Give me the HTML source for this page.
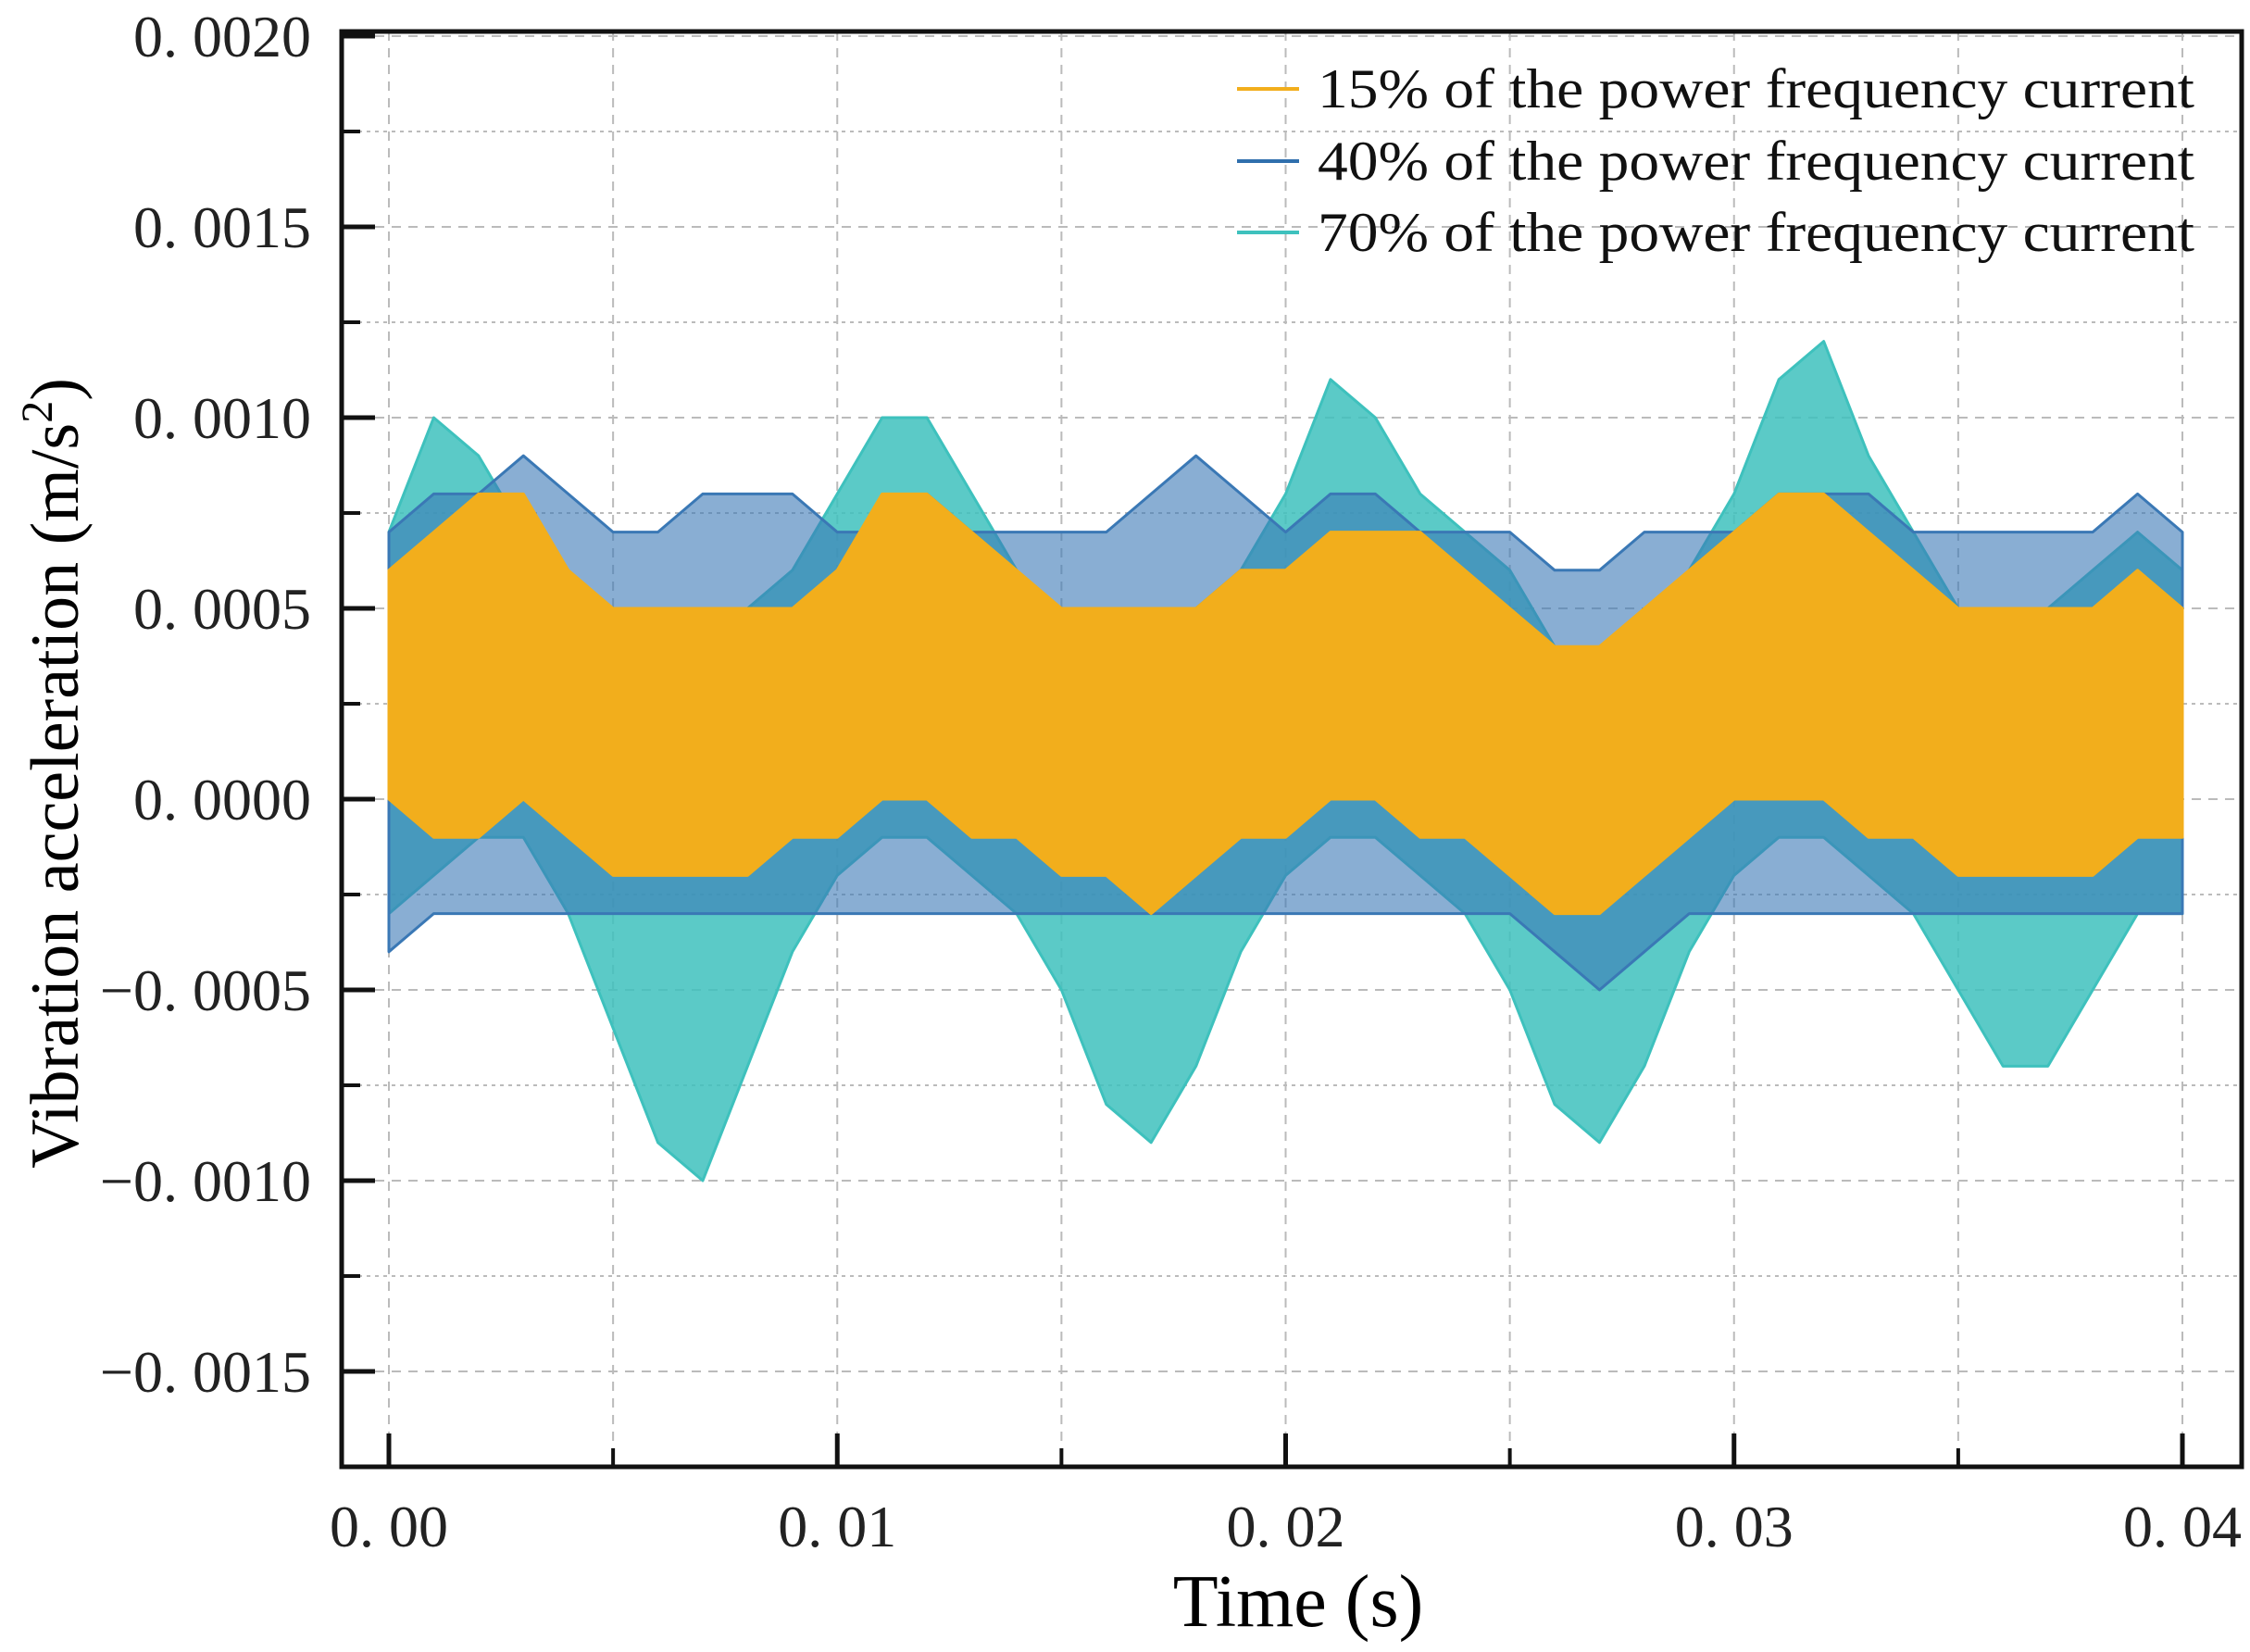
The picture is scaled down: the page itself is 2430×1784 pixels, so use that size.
<!DOCTYPE html>
<html><head><meta charset="utf-8"><style>
html,body{margin:0;padding:0;background:#fff;}
svg{display:block;font-family:"Liberation Serif","Noto Serif CJK SC",serif;}
</style></head><body>
<svg id="chart" width="2430" height="1784" viewBox="0 0 2430 1784">
<g id="grid"></g>
<g id="series"></g>
<g id="axes"></g>
<g id="legend"></g>
<text x="1402" y="1756" font-size="80" text-anchor="middle">Time (s)</text>
<text transform="translate(84,835) rotate(-90)" font-size="74" text-anchor="middle">Vibration acceleration (m/s<tspan font-size="48" dy="-28">2</tspan><tspan dy="28">)</tspan></text>
</svg>
<script>
const times=[0,1,2,3,4,5,6,7,8,9,10,11,12,13,14,15,16,17,18,19,20,21,22,23,24,25,26,27,28,29,30,31,32,33,34,35,36,37,38,39,40];
const tealUpper=[7,10,9,7,5,4,3,3,5,6,8,10,10,8,6,4,3,4,5,6,8,11,10,8,7,6,4,3,4,6,8,11,12,9,7,5,4,5,6,7,6];
const tealLower=[-3,-2,-1,-1,-3,-6,-9,-10,-7,-4,-2,-1,-1,-2,-3,-5,-8,-9,-7,-4,-2,-1,-1,-2,-3,-5,-8,-9,-7,-4,-2,-1,-1,-2,-3,-5,-7,-7,-5,-3,-3];
const blueUpper=[7,8,8,9,8,7,7,8,8,8,7,7,8,7,7,7,7,8,9,8,7,8,8,7,7,7,6,6,7,7,7,8,8,8,7,7,7,7,7,8,7];
const blueLower=[-4,-3,-3,-3,-3,-3,-3,-3,-3,-3,-3,-3,-3,-3,-3,-3,-3,-3,-3,-3,-3,-3,-3,-3,-3,-3,-4,-5,-4,-3,-3,-3,-3,-3,-3,-3,-3,-3,-3,-3,-3];
const orangeUpper=[6,7,8,8,6,5,5,5,5,5,6,8,8,7,6,5,5,5,5,6,6,7,7,7,6,5,4,4,5,6,7,8,8,7,6,5,5,5,5,6,5];
const orangeLower=[0,-1,-1,0,-1,-2,-2,-2,-2,-1,-1,0,0,-1,-1,-2,-2,-3,-2,-1,-1,0,0,-1,-1,-2,-3,-3,-2,-1,0,0,0,-1,-1,-2,-2,-2,-2,-1,-1];
const xTicks=[0,0.01,0.02,0.03,0.04];
const xTickLabels=["0. 00","0. 01","0. 02","0. 03","0. 04"];
const yTicks=[0.002,0.0015,0.001,0.0005,0,-0.0005,-0.001,-0.0015];
const yTickLabels=["0. 0020","0. 0015","0. 0010","0. 0005","0. 0000","\u22120. 0005","\u22120. 0010","\u22120. 0015"];
const legendLabels=["15% of the power frequency current","40% of the power frequency current","70% of the power frequency current"];

const NS="http://www.w3.org/2000/svg";
const L=369,R=2421,T=34,B=1584;
function xs(t){return 420+t/0.04*1937;}
function ys(v){return 863-v/0.0005*206;}
function mk(tag,attrs,parent){const e=document.createElementNS(NS,tag);for(const k in attrs)e.setAttribute(k,attrs[k]);parent.appendChild(e);return e;}
const grid=document.getElementById('grid'),axes=document.getElementById('axes'),ser=document.getElementById('series'),leg=document.getElementById('legend');
for(let t=0;t<=0.04001;t+=0.005){const l=mk('line',{x1:xs(t),x2:xs(t),y1:T,y2:B,stroke:'#bbb','stroke-width':2,'stroke-dasharray':'10 8'},grid);

}
for(let v=-0.00175;v<=0.00201;v+=0.00025){const maj=Math.abs(Math.round(v/0.0005)*0.0005-v)<1e-9;const l=mk('line',{x1:L,x2:R,y1:ys(v),y2:ys(v),stroke:'#bbb','stroke-width':2,'stroke-dasharray':maj?'10 8':'4 5'},grid);

}
function band(up,lo,color,op,name){
  let d='M'+times.map((t,i)=>xs(t/1000)+','+ys(up[i]*1e-4)).join('L');
  for(let i=times.length-1;i>=0;i--)d+='L'+xs(times[i]/1000)+','+ys(lo[i]*1e-4);
  d+='Z';
  const p=mk('path',{d:d,fill:color,'fill-opacity':op,stroke:color,'stroke-width':3,'stroke-linejoin':'round'},ser);
  
  
}
band(tealUpper,tealLower,'#3ec1bd',0.85,'series-70-percent');
band(blueUpper,blueLower,'#3a78b5',0.6,'series-40-percent');
band(orangeUpper,orangeLower,'#f2ae1c',1,'series-15-percent');
const fr=mk('rect',{x:L,y:T,width:R-L,height:B-T,fill:'none',stroke:'#111','stroke-width':5},axes);


xTicks.forEach((t,i)=>{
  const tk=mk('line',{x1:xs(t),x2:xs(t),y1:B,y2:B-36,stroke:'#111','stroke-width':5},axes);
  
  
  const tx=mk('text',{x:xs(t),y:1670,'font-size':64,'text-anchor':'middle',fill:'#222'},axes);
  tx.textContent=xTickLabels[i];
  
  
});
for(let t=0.005;t<0.04;t+=0.01){const tk=mk('line',{x1:xs(t),x2:xs(t),y1:B,y2:B-20,stroke:'#111','stroke-width':4},axes);

}
yTicks.forEach((v,i)=>{
  const tk=mk('line',{x1:L,x2:L+36,y1:ys(v),y2:ys(v),stroke:'#111','stroke-width':5},axes);
  
  
  const tx=mk('text',{x:336,y:ys(v)+22,'font-size':64,'text-anchor':'end',fill:'#222'},axes);
  tx.textContent=yTickLabels[i];
  
  
});
for(let v=-0.00175;v<0.002;v+=0.0005){const tk=mk('line',{x1:L,x2:L+20,y1:ys(v),y2:ys(v),stroke:'#111','stroke-width':4},axes);

}
const legColors=['#f2ae1c','#2f6fad','#3ec1bd'];
const legRows=[96,174,251];
legendLabels.forEach((s,i)=>{
  const ln=mk('line',{x1:1336,x2:1403,y1:legRows[i],y2:legRows[i],stroke:legColors[i],'stroke-width':4},leg);
  
  
  const tx=mk('text',{x:1423,y:legRows[i]+20,'font-size':60,fill:'#111',textLength:947,lengthAdjust:'spacingAndGlyphs'},leg);
  tx.textContent=s;
  
  
});
</script>
</body></html>
